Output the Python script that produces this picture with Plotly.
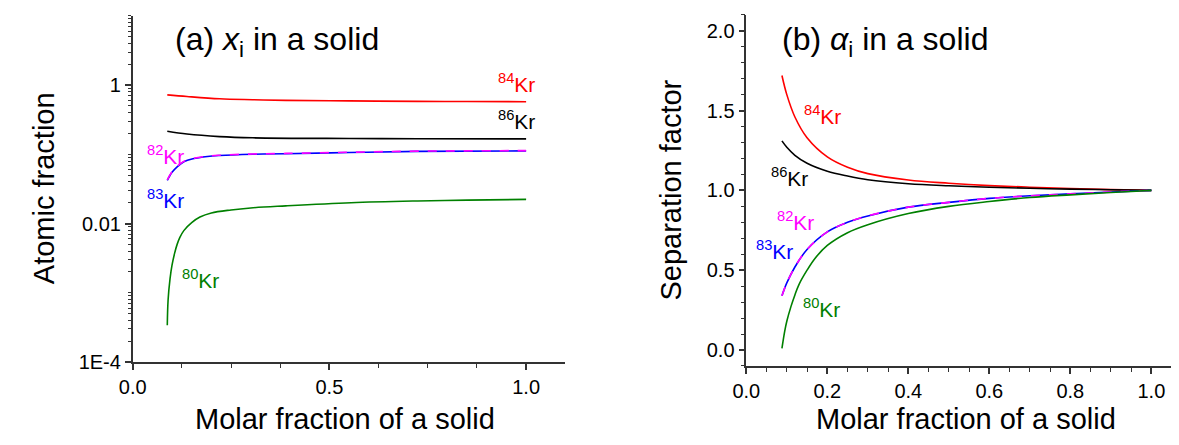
import plotly.graph_objects as go

W, H = 1179, 445
FONT = "Liberation Sans, Arial, sans-serif"

# ---------- Panel (a): atomic fraction in a solid (log scale) ----------
a_x_84 = [0.088, 0.138, 0.221, 0.305, 0.389, 0.55, 0.724, 0.85, 1.0]
a_y_84 = [0.722, 0.684, 0.634, 0.614, 0.600, 0.590, 0.581, 0.578, 0.575]

a_x_86 = [0.088, 0.138, 0.221, 0.305, 0.55, 0.724, 1.0]
a_y_86 = [0.215, 0.196, 0.180, 0.173, 0.169, 0.168, 0.167]

a_x_82 = [0.088, 0.1, 0.113, 0.13, 0.153, 0.19, 0.221, 0.305, 0.389, 0.55, 0.724, 1.0]
a_y_82 = [0.0426, 0.056, 0.067, 0.079, 0.087, 0.094, 0.097, 0.101, 0.103, 0.107, 0.111, 0.113]
a_x_83 = a_x_82
a_y_83 = [0.0420, 0.055, 0.066, 0.078, 0.086, 0.093, 0.096, 0.100, 0.102, 0.106, 0.110, 0.112]

a_x_80 = [0.088, 0.090, 0.095, 0.10, 0.107, 0.113, 0.12, 0.13, 0.15, 0.171, 0.2, 0.25, 0.3, 0.389, 0.555, 0.724, 0.85, 1.0]
a_y_80 = [3.4e-4, 7.8e-4, 1.6e-3, 2.5e-3, 3.8e-3, 5.0e-3, 6.3e-3, 7.9e-3, 0.0103, 0.0124, 0.0142, 0.0157, 0.0168, 0.0180, 0.0200, 0.0212, 0.0218, 0.0223]

# ---------- Panel (b): separation factor ----------
b_x_84 = [0.088, 0.10, 0.12, 0.15, 0.2, 0.25, 0.3, 0.4, 0.5, 0.6, 0.7, 0.8, 0.9, 1.0]
b_y_84 = [1.72, 1.60, 1.46, 1.33, 1.21, 1.145, 1.105, 1.065, 1.045, 1.03, 1.02, 1.012, 1.005, 1.0]

b_x_86 = b_x_84
b_y_86 = [1.31, 1.27, 1.22, 1.17, 1.12, 1.09, 1.067, 1.042, 1.029, 1.02, 1.013, 1.008, 1.004, 1.0]

b_x_82 = b_x_84
b_y_82 = [0.34, 0.42, 0.52, 0.63, 0.74, 0.80, 0.84, 0.895, 0.925, 0.95, 0.966, 0.978, 0.99, 1.0]
b_x_83 = b_x_84
b_y_83 = [0.34, 0.42, 0.52, 0.63, 0.74, 0.80, 0.84, 0.895, 0.925, 0.95, 0.966, 0.978, 0.99, 1.0]

b_x_80 = [0.088, 0.095, 0.10, 0.11, 0.12, 0.13, 0.15, 0.17, 0.2, 0.25, 0.3, 0.4, 0.5, 0.6, 0.7, 0.8, 0.9, 1.0]
b_y_80 = [0.01, 0.12, 0.18, 0.27, 0.345, 0.41, 0.50, 0.575, 0.655, 0.735, 0.785, 0.855, 0.90, 0.93, 0.955, 0.972, 0.987, 1.0]

RED, BLACK, MAG, BLUE, GREEN = "#ff0000", "#000000", "#ff00ff", "#0000ff", "#008000"


def px(x):
    return x / W


def py(y):
    return 1 - y / H


fig = go.Figure()


def add(x, y, color, xa, ya, dash="solid"):
    fig.add_trace(go.Scatter(x=x, y=y, mode="lines", xaxis=xa, yaxis=ya,
                             line=dict(color=color, width=1.6, dash=dash, shape="spline", smoothing=1.0),
                             showlegend=False, hoverinfo="skip"))


add(a_x_84, a_y_84, RED, "x", "y")
add(a_x_86, a_y_86, BLACK, "x", "y")
add(a_x_83, a_y_83, BLUE, "x", "y")
add(a_x_82, a_y_82, MAG, "x", "y", dash="dash")
add(a_x_80, a_y_80, GREEN, "x", "y")

add(b_x_84, b_y_84, RED, "x2", "y2")
add(b_x_86, b_y_86, BLACK, "x2", "y2")
add(b_x_83, b_y_83, BLUE, "x2", "y2")
add(b_x_82, b_y_82, MAG, "x2", "y2", dash="dash")
add(b_x_80, b_y_80, GREEN, "x2", "y2")

AXC = "#333333"
common = dict(showline=True, linecolor=AXC, linewidth=1.5, mirror=False, showgrid=False, zeroline=False,
              ticks="outside", ticklen=6, tickwidth=1.5, tickcolor=AXC,
              tickfont=dict(family=FONT, size=20, color="black"))

log_minor = []
for e in range(-4, 1):
    for m in range(1, 10):
        v = m * 10 ** e
        if m == 1 and e % 2 == 0:
            continue
        log_minor.append(v)
log_minor.append(10)

fig.update_layout(
    width=W, height=H, margin=dict(l=0, r=0, t=0, b=0),
    paper_bgcolor="white", plot_bgcolor="white",
    xaxis=dict(domain=[px(112), px(550)], range=[0, 1.1], tickvals=[0, 0.5, 1.0], tickformat=".1f",
               minor=dict(ticks="outside", dtick=0.125, tick0=0, ticklen=4, tickwidth=1.2, tickcolor=AXC),
               anchor="y", **common),
    yaxis=dict(domain=[py(363), py(8)], type="log", range=[-4, 1], tickvals=[1e-4, 1e-2, 1],
               ticktext=["1E-4", "0.01", "1"], tickmode="array",
               minor=dict(ticks="outside", tickmode="array", tickvals=log_minor, ticklen=3, tickwidth=1.2, tickcolor=AXC),
               anchor="x", **common),
    xaxis2=dict(domain=[px(733), 1.0], range=[0, 1.088], tickvals=[0, 0.2, 0.4, 0.6, 0.8, 1.0], tickformat=".1f",
                minor=dict(ticks="outside", dtick=0.05, tick0=0, ticklen=4, tickwidth=1.2, tickcolor=AXC),
                anchor="y2", **common),
    yaxis2=dict(domain=[py(367), py(7)], range=[-0.1, 2.1], tickvals=[0, 0.5, 1.0, 1.5, 2.0], tickformat=".1f",
                minor=dict(ticks="outside", dtick=0.1, tick0=0, ticklen=4, tickwidth=1.2, tickcolor=AXC),
                anchor="x2", **common),
)


def ann(text, x, y, size, color="black", angle=0, xanchor="center"):
    fig.add_annotation(text=text, x=px(x), y=py(y), xref="paper", yref="paper", showarrow=False,
                       xanchor=xanchor, yanchor="middle", textangle=angle,
                       font=dict(family=FONT, size=size, color=color))


# titles
ann("(a) <i>x</i><sub>i</sub> in a solid", 153, 34, 32, xanchor="left")
ann("(b) <i>α</i><sub>i</sub> in a solid", 767, 34, 32, xanchor="left")

# axis titles
ann("Atomic fraction", 23, 185, 29, angle=-90)
ann("Separation factor", 657, 187, 29, angle=-90)
ann("Molar fraction of a solid", 327, 421, 29)
ann("Molar fraction of a solid", 955, 421, 29)

# series labels, panel (a)
KS = 21
ann("<sup>84</sup>Kr", 500, 77, KS, RED)
ann("<sup>86</sup>Kr", 500, 115, KS, BLACK)
ann("<sup>82</sup>Kr", 145, 151, KS, MAG)
ann("<sup>83</sup>Kr", 145, 196, KS, BLUE)
ann("<sup>80</sup>Kr", 181, 278, KS, GREEN)

# series labels, panel (b)
ann("<sup>84</sup>Kr", 810, 110, KS, RED)
ann("<sup>86</sup>Kr", 777, 173, KS, BLACK)
ann("<sup>82</sup>Kr", 783, 218, KS, MAG)
ann("<sup>83</sup>Kr", 762, 248, KS, BLUE)
ann("<sup>80</sup>Kr", 809, 308, KS, GREEN)

fig.write_html("out.html")
